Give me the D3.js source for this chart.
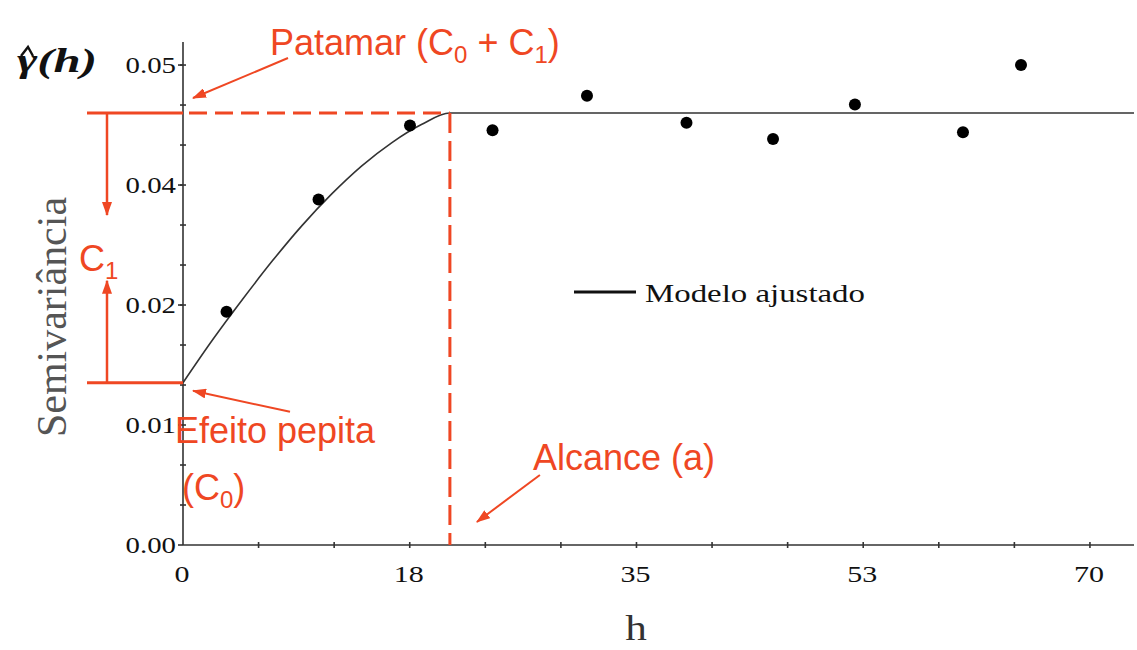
<!DOCTYPE html>
<html>
<head>
<meta charset="utf-8">
<script src="https://cdn.jsdelivr.net/npm/d3@7/dist/d3.min.js"></script>
<style>
  html, body { margin: 0; padding: 0; background: #ffffff; }
  svg { display: block; }
</style>
</head>
<body>
<svg id="chart" width="1137" height="650"></svg>
<script>
// Experimental semivariance by lag distance h
const lagH      = [3.36, 10.46, 17.52, 23.89, 31.18, 38.86, 45.54, 51.86, 60.2, 64.68];
const lagGamma  = [0.0243, 0.0360, 0.0437, 0.0432, 0.0468, 0.0440, 0.0423, 0.0459, 0.0430, 0.0500];

// Fitted model line, flat at the sill beyond the range
const modelH     = [0, 2.3, 4.6, 6.9, 9.2, 11.5, 13.8, 16.1, 18.4, 20.6, 73.4];
const modelGamma = [0.0169, 0.0214, 0.0256, 0.0296, 0.0333, 0.0366, 0.0395, 0.0419, 0.0438, 0.0450, 0.0450];

// Model parameters
const nugget = 0.0169;   // C0
const sill   = 0.0450;   // C0 + C1
const range  = 20.6;     // a

// Axes
const xTickValues = [0, 17.5, 35, 52.5, 70];
const xTickLabels = ["0", "18", "35", "53", "70"];
const yTickValues = [0, 0.0125, 0.025, 0.0375, 0.05];
const yTickLabels = ["0.00", "0.01", "0.02", "0.04", "0.05"];
const xMax = 73.4, yMax = 0.0524;

const RED = "#ef4723";
const SERIF = "'Liberation Serif', 'Times New Roman', serif";
const SANS = "'Liberation Sans', Arial, sans-serif";

const svg = d3.select("#chart");
const x = d3.scaleLinear().domain([0, xMax]).range([183, 1134]);
const y = d3.scaleLinear().domain([0, yMax]).range([545, 42]);

// widen serif glyphs horizontally by a factor
function widen(sel, k) {
  sel.each(function () {
    const len = this.getComputedTextLength();
    d3.select(this).attr("textLength", len * k).attr("lengthAdjust", "spacingAndGlyphs");
  });
}

svg.append("defs").append("marker")
  .attr("id", "arrow").attr("viewBox", "0 0 14 10")
  .attr("refX", 13).attr("refY", 5)
  .attr("markerWidth", 14).attr("markerHeight", 10)
  .attr("markerUnits", "userSpaceOnUse").attr("orient", "auto")
  .append("path").attr("d", "M0,0 L14,5 L0,10 Z").attr("fill", RED);

// ---- axes ----
const axisColor = "#333";
const xMinor = d3.range(0, xMax, 17.5 / 3).filter(v => v > 0);
const yMinor = d3.range(0, yMax, 0.0125 / 3).filter(v => v > 0);

svg.append("line").attr("x1", x(0)).attr("x2", x(xMax)).attr("y1", y(0)).attr("y2", y(0))
  .attr("stroke", axisColor).attr("stroke-width", 1.6);
svg.append("line").attr("x1", x(0)).attr("x2", x(0)).attr("y1", y(0)).attr("y2", y(yMax))
  .attr("stroke", axisColor).attr("stroke-width", 1.6);

svg.append("g").selectAll("line").data(xMinor).join("line")
  .attr("x1", d => x(d)).attr("x2", d => x(d))
  .attr("y1", y(0) - 3).attr("y2", y(0) + 3)
  .attr("stroke", axisColor).attr("stroke-width", 1.6);
svg.append("g").selectAll("line").data(yMinor).join("line")
  .attr("x1", x(0) - 3).attr("x2", x(0) + 3)
  .attr("y1", d => y(d)).attr("y2", d => y(d))
  .attr("stroke", axisColor).attr("stroke-width", 1.6);
svg.append("g").selectAll("line").data(yTickValues).join("line")
  .attr("x1", x(0) - 5).attr("x2", x(0))
  .attr("y1", d => y(d)).attr("y2", d => y(d))
  .attr("stroke", axisColor).attr("stroke-width", 1.6);

const yLabels = svg.append("g").selectAll("text").data(yTickValues).join("text")
  .attr("x", x(0) - 7).attr("y", d => y(d)).attr("dy", "0.34em")
  .attr("text-anchor", "end")
  .attr("font-family", SERIF).attr("font-size", 24).attr("fill", "#111")
  .text((d, i) => yTickLabels[i]);
widen(yLabels, 1.2);

const xLabels = svg.append("g").selectAll("text").data(xTickValues).join("text")
  .attr("x", d => x(d) - 1).attr("y", y(0) + 37)
  .attr("text-anchor", "middle")
  .attr("font-family", SERIF).attr("font-size", 24).attr("fill", "#111")
  .text((d, i) => xTickLabels[i]);
widen(xLabels, 1.25);

// axis titles
svg.append("g").attr("transform", "translate(66,317) scale(1.2,1) rotate(-90)")
  .append("text").attr("text-anchor", "middle")
  .attr("font-family", SERIF).attr("font-size", 36).attr("fill", "#555")
  .attr("textLength", 240).attr("lengthAdjust", "spacingAndGlyphs")
  .text("Semivariância");

const hTitle = svg.append("text").attr("x", 636).attr("y", 640).attr("text-anchor", "middle")
  .attr("font-family", SERIF).attr("font-size", 36).attr("fill", "#333").text("h");
widen(hTitle, 1.2);

// estimator symbol: gamma(h) with a circumflex drawn above the gamma
svg.append("text").attr("x", 17).attr("y", 72)
  .attr("font-family", SERIF).attr("font-size", 33)
  .attr("font-weight", "bold").attr("font-style", "italic").attr("fill", "#111")
  .attr("textLength", 80).attr("lengthAdjust", "spacingAndGlyphs")
  .text("\u03B3(h)");
svg.append("path").attr("d", "M21,56 L28,47 L33,56")
  .attr("fill", "none").attr("stroke", "#111").attr("stroke-width", 2.4)
  .attr("stroke-linejoin", "miter");

// ---- fitted model ----
const line = d3.line().x((d, i) => x(modelH[i])).y(d => y(d)).curve(d3.curveMonotoneX);
svg.append("path").datum(modelGamma).attr("d", line)
  .attr("fill", "none").attr("stroke", "#333").attr("stroke-width", 1.6);

// ---- reference lines (sill, nugget, range) ----
svg.append("line").attr("x1", x(0) - 96).attr("x2", x(0)).attr("y1", y(sill)).attr("y2", y(sill))
  .attr("stroke", RED).attr("stroke-width", 3);
svg.append("line").attr("x1", x(0)).attr("x2", x(range)).attr("y1", y(sill)).attr("y2", y(sill))
  .attr("stroke", RED).attr("stroke-width", 3).attr("stroke-dasharray", "18,8")
  .attr("stroke-dashoffset", -6);
svg.append("line").attr("x1", x(range)).attr("x2", x(range)).attr("y1", y(sill)).attr("y2", y(0))
  .attr("stroke", RED).attr("stroke-width", 3).attr("stroke-dasharray", "20,8");
svg.append("line").attr("x1", x(0) - 96).attr("x2", x(0)).attr("y1", y(nugget)).attr("y2", y(nugget))
  .attr("stroke", RED).attr("stroke-width", 3);

// C1 arrows
const c1x = x(0) - 76;
svg.append("line").attr("x1", c1x).attr("x2", c1x).attr("y1", y(sill)).attr("y2", y(sill) + 102)
  .attr("stroke", RED).attr("stroke-width", 2.5).attr("marker-end", "url(#arrow)");
svg.append("line").attr("x1", c1x).attr("x2", c1x).attr("y1", y(nugget)).attr("y2", y(nugget) - 102)
  .attr("stroke", RED).attr("stroke-width", 2.5).attr("marker-end", "url(#arrow)");

// pointer arrows
const pointers = [
  { x1: x(0) + 105, y1: y(sill) - 55, x2: x(0) + 10, y2: y(sill) - 15 },
  { x1: x(0) + 107, y1: y(nugget) + 29, x2: x(0) + 10, y2: y(nugget) + 8 },
  { x1: x(range) + 90, y1: y(0) - 70, x2: x(range) + 27, y2: y(0) - 23 }
];
svg.append("g").selectAll("line").data(pointers).join("line")
  .attr("x1", d => d.x1).attr("y1", d => d.y1).attr("x2", d => d.x2).attr("y2", d => d.y2)
  .attr("stroke", RED).attr("stroke-width", 2).attr("marker-end", "url(#arrow)");

// ---- experimental points ----
svg.append("g").selectAll("circle").data(lagGamma).join("circle")
  .attr("cx", (d, i) => x(lagH[i])).attr("cy", d => y(d)).attr("r", 6)
  .attr("fill", "#000");

// ---- legend ----
svg.append("line").attr("x1", 574).attr("x2", 636).attr("y1", 292).attr("y2", 292)
  .attr("stroke", "#111").attr("stroke-width", 3);
svg.append("text").attr("x", 645).attr("y", 302)
  .attr("font-family", SERIF).attr("font-size", 25).attr("fill", "#111")
  .attr("textLength", 220).attr("lengthAdjust", "spacingAndGlyphs")
  .text("Modelo ajustado");

// ---- red annotations with subscripts ----
function label(px, py, parts) {
  const t = svg.append("text").attr("x", px).attr("y", py)
    .attr("font-family", SANS).attr("font-size", 36).attr("fill", RED);
  let shifted = false;
  parts.forEach(p => {
    const span = t.append("tspan").text(p.sub || p.t);
    if (p.sub) {
      span.attr("font-size", 24).attr("dy", 8);
      shifted = true;
    } else if (shifted) {
      span.attr("dy", -8);
      shifted = false;
    }
  });
  return t;
}
label(270, 55, [{ t: "Patamar (C" }, { sub: "0" }, { t: " + C" }, { sub: "1" }, { t: ")" }]);
label(79, 271, [{ t: "C" }, { sub: "1" }]);
label(175, 443, [{ t: "Efeito pepita" }]);
label(182, 500, [{ t: "(C" }, { sub: "0" }, { t: ")" }]);
label(533, 470, [{ t: "Alcance (a)" }]);
</script>
</body>
</html>
